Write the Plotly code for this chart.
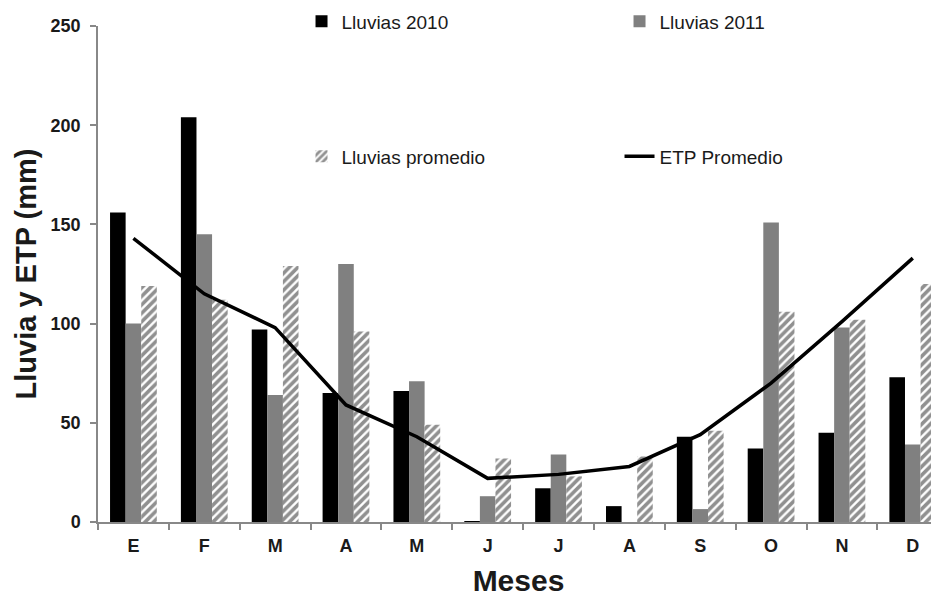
import plotly.graph_objects as go

months = ["Ene", "Feb", "Mar", "Abr", "May", "Jun", "Jul", "Ago", "Sep", "Oct", "Nov", "Dic"]
tick_labels = ["E", "F", "M", "A", "M", "J", "J", "A", "S", "O", "N", "D"]
lluvias_2010 = [156, 204, 97, 65, 66, 0.5, 17, 8, 43, 37, 45, 73]
lluvias_2011 = [100, 145, 64, 130, 71, 13, 34, 0, 6.5, 151, 98, 39]
lluvias_promedio = [119, 112, 129, 96, 49, 32, 23, 33, 46, 106, 102, 120]
etp_promedio = [143, 115, 98, 59, 43, 22, 24, 28, 44, 70, 101, 133]

FONT = "Liberation Sans, Arial, sans-serif"
TXT = "#1a1a1a"

fig = go.Figure()
fig.add_trace(go.Bar(x=months, y=lluvias_2010, name="Lluvias 2010",
                     marker=dict(color="#000000", line=dict(width=0)), legend="legend"))
fig.add_trace(go.Bar(x=months, y=lluvias_2011, name="Lluvias 2011",
                     marker=dict(color="#808080", line=dict(width=0)), legend="legend"))
fig.add_trace(go.Bar(x=months, y=lluvias_promedio, name="Lluvias promedio",
                     marker=dict(color="#ffffff", line=dict(width=0),
                                 pattern=dict(shape="/", fgcolor="#222222", bgcolor="#ffffff",
                                              size=6, solidity=0.6)),
                     legend="legend2"))
fig.add_trace(go.Scatter(x=months, y=etp_promedio, name="ETP Promedio", mode="lines",
                         line=dict(color="#000000", width=3.5), legend="legend2"))

leg_common = dict(orientation="h", xanchor="left", yanchor="top",
                  entrywidth=273, bgcolor="rgba(0,0,0,0)",
                  font=dict(size=19, family=FONT, color=TXT), traceorder="normal")

# the page body has an 8px default margin, so the figure is shrunk by 8px to fit the window
fig.update_layout(
    width=931, height=589,
    margin=dict(l=90, r=0, t=18, b=75, autoexpand=False),
    paper_bgcolor="white", plot_bgcolor="white",
    barmode="group", bargap=0.34, bargroupgap=0,
    font=dict(family=FONT, color=TXT),
    legend=dict(x=0.242, y=1.0474, **leg_common),
    legend2=dict(x=0.242, y=0.7752, **leg_common),
)
fig.update_xaxes(
    type="category", tickmode="array", tickvals=months, ticktext=tick_labels,
    tickson="boundaries", ticks="outside", ticklen=6, tickcolor="#888888", tickwidth=1.5,
    showline=True, linecolor="#888888", linewidth=1.5, showgrid=False,
    range=[-0.5, 11.37], automargin=False, ticklabelstandoff=7,
    tickfont=dict(size=18, family=FONT, color=TXT, weight="bold"),
    title=dict(text="Meses", font=dict(size=30, family=FONT, color=TXT, weight="bold"),
               standoff=15),
)
fig.update_yaxes(
    range=[0, 250], tickvals=[0, 50, 100, 150, 200, 250],
    ticks="outside", ticklen=6, tickcolor="#888888", tickwidth=1.5,
    showline=True, linecolor="#888888", linewidth=1.5, showgrid=False, zeroline=False,
    automargin=False, ticklabelstandoff=6,
    tickfont=dict(size=18, family=FONT, color=TXT, weight="bold"),
    title=dict(text="Lluvia y ETP (mm)", font=dict(size=29, family=FONT, color=TXT, weight="bold"),
               standoff=5),
)

fig.write_html("out.html")
